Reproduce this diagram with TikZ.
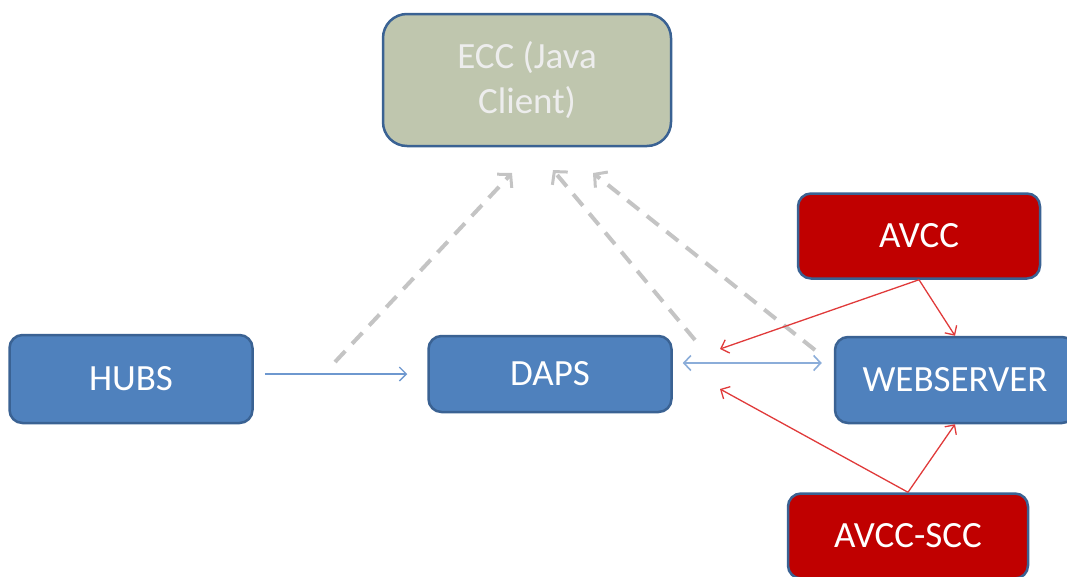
\documentclass[tikz,border=0pt]{standalone}
\usepackage{fontspec}
\setmainfont{Carlito}
\usetikzlibrary{arrows.meta}
\definecolor{boxblue}{HTML}{4F81BD}
\definecolor{boxedge}{HTML}{3A6293}
\definecolor{boxred}{HTML}{C00000}
\definecolor{boxsage}{HTML}{BFC6AE}
\definecolor{linkblue}{HTML}{6E98CF}
\definecolor{linkred}{HTML}{E03A3A}
\definecolor{linkgray}{HTML}{C4C4C4}
\tikzset{
  x=1pt, y=-1pt,
  unit/.style={draw=boxedge, line width=2.5pt, rounded corners=13pt,
    text=white, font=\fontsize{37}{45}\selectfont, align=center,
    inner sep=0pt, minimum width=243pt, minimum height=86pt},
  bluebox/.style={unit, fill=boxblue},
  redbox/.style={unit, fill=boxred},
  clientbox/.style={unit, fill=boxsage, text=white!93!black,
    rounded corners=24pt, minimum width=288pt, minimum height=132pt},
  flow/.style={draw=linkblue, line width=1.3pt,
    -{Straight Barb[length=7pt,width=14pt,line width=1.3pt]}},
  biflow/.style={draw=linkblue!80, line width=2.4pt,
    {Straight Barb[length=7pt,width=15pt,line width=1.6pt]}-{Straight Barb[length=7pt,width=15pt,line width=1.6pt]}},
  ctrl/.style={draw=linkred, line width=1.3pt,
    -{Straight Barb[length=7pt,width=14pt,line width=1.3pt]}},
  report/.style={draw=linkgray, line width=4pt, dash pattern=on 15pt off 10pt,
    -{Straight Barb[length=9pt,width=20pt,line width=3pt]}}
}
\begin{document}
\begin{tikzpicture}
\useasboundingbox (0,0) rectangle (1067,576);
\clip (0,0) rectangle (1067,576);

% components
\node[clientbox] (ecc) at (527,80) {ECC (Java\\Client)};
\node[bluebox, minimum height=88pt] (hubs) at (131,379) {HUBS};
\node[bluebox, minimum height=76pt] (daps) at (550,374) {DAPS};
\node[bluebox, minimum width=240pt] (web) at (955,380) {WEBSERVER};
\node[redbox, minimum width=242pt, minimum height=85pt] (avcc) at (919,236) {AVCC};
\node[redbox, minimum width=240pt, minimum height=85pt] (scc) at (908,536) {AVCC-SCC};

% free ends of the connectors
\coordinate (hubsOut) at (335,362);
\coordinate (dapsOut) at (695,340);
\coordinate (webOut) at (815,350);
\coordinate (eccInA) at (512,173);
\coordinate (eccInB) at (553,170);
\coordinate (eccInC) at (593,173);
\coordinate (dapsInA) at (720,349);
\coordinate (dapsInB) at (720,389);

% reporting to the client
\draw[report] (hubsOut) -- (eccInA);
\draw[report] (dapsOut) -- (eccInB);
\draw[report] (webOut) -- (eccInC);

% data flow
\draw[flow, shorten <=11pt, shorten >=20pt] (hubs.east |- daps.center) -- (daps.west);
\draw[biflow, shorten <=10pt, shorten >=12pt] ([yshift=11pt]daps.east) -- ([yshift=17pt]web.west);

% control links
\draw[ctrl] (avcc.south) -- (web.north);
\draw[ctrl] (avcc.south) -- (dapsInA);
\draw[ctrl] (scc.north) -- (web.south);
\draw[ctrl] (scc.north) -- (dapsInB);
\end{tikzpicture}
\end{document}
